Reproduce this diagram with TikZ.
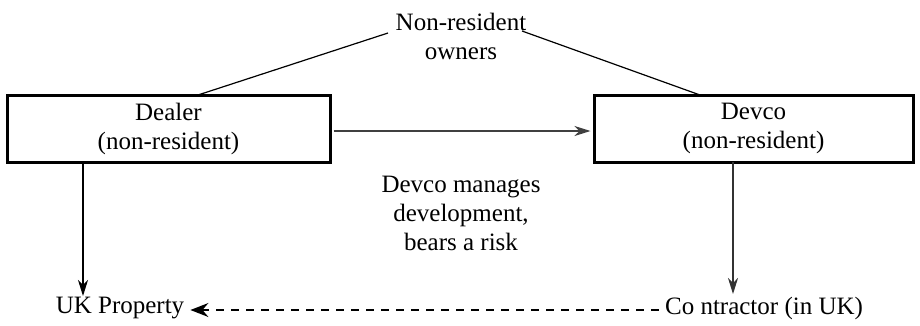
\documentclass[tikz,border=0pt]{standalone}
\usepackage{fontspec}
\setmainfont{LiberationSerif}[Extension=.ttf, UprightFont=*-Regular, BoldFont=*-Bold]
\usetikzlibrary{arrows.meta}
\begin{document}
\begin{tikzpicture}[x=1pt,y=-1pt,
  every node/.style={font=\rmfamily\fontsize{25}{29}\selectfont, align=center, inner sep=2pt},
  box/.style={draw, line width=3pt, minimum width=#1, minimum height=67pt},
  conn/.style={line width=1.2pt},
  arr/.style={line width=1.2pt, -{Stealth[length=16pt,width=10pt,inset=5pt]}},
  darr/.style={line width=1.2pt, dash pattern=on 8pt off 7pt, -{Stealth[length=18pt,width=14pt,inset=6pt]}}]
\useasboundingbox (0,0) rectangle (920,325);
\node (owners) at (461,36) {Non-resident\\owners};
\node[box=323pt] (dealer) at (168.5,128.5) {Dealer\\(non-resident)};
\node[box=319pt] (devco) at (753.5,128.5) {Devco\\(non-resident)};
\node (mid) at (461,213) {Devco manages\\development,\\bears a risk};
\node[inner sep=6pt] (prop) at (120,308) {UK Property};
\node[inner sep=6pt] (contr) at (764,308) {Co ntractor (in UK)};
\coordinate (ol) at (388,33);
\coordinate (or) at (522,31);
\coordinate (dl) at (198,95);
\coordinate (dr) at (700,95);
\coordinate (dtop) at (83,162);
\coordinate (pbot) at (83,296);
\coordinate (vtop) at (733,162);
\coordinate (cbot) at (733,294);
\draw[conn] (ol) -- (dl);
\draw[conn] (or) -- (dr);
\draw[arr, black!75] (dealer.east |- 0,131) ++(2,0) -- ([xshift=-2pt]devco.west |- 0,131);
\draw[arr] (dtop) -- (pbot);
\draw[arr, black!80] (vtop) -- (cbot);
\draw[darr] (contr.west |- 0,310) -- (prop.east |- 0,310);
\end{tikzpicture}
\end{document}
